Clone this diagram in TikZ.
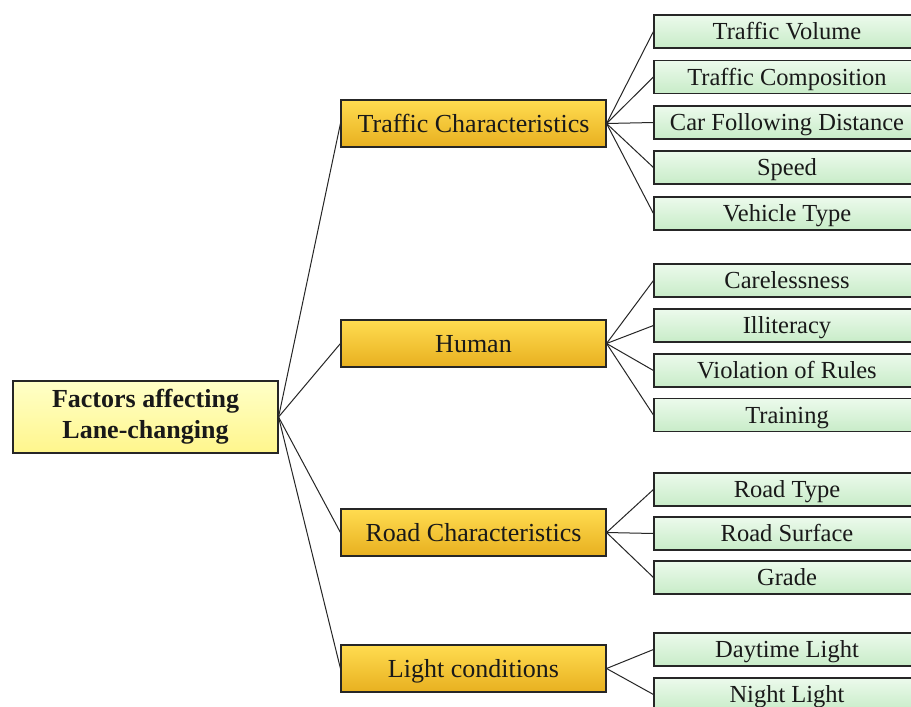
\documentclass[tikz,border=0pt]{standalone}
\usepackage{fontspec}
\setmainfont{Liberation Serif}
\begin{document}
\begin{tikzpicture}[x=1pt,y=-1pt,
  base/.style={draw=black!85, line width=1.1pt, inner sep=0pt, font=\fontsize{26}{30}\selectfont, text=black!90},
  rootbox/.style={base, minimum width=265pt, minimum height=72pt, top color={rgb,255:red,255;green,255;blue,200}, bottom color={rgb,255:red,255;green,246;blue,140}, align=center, font=\fontsize{26}{31}\selectfont\bfseries},
  midbox/.style={base, minimum width=265pt, minimum height=47pt, text height=17pt, text depth=0pt, top color={rgb,255:red,255;green,220;blue,80}, bottom color={rgb,255:red,232;green,176;blue,32}},
  leafbox/.style={base, minimum width=266pt, minimum height=33pt, font=\fontsize{24.5}{28}\selectfont, text height=16pt, text depth=0pt, top color={rgb,255:red,236;green,250;blue,236}, bottom color={rgb,255:red,200;green,236;blue,200}},
  link/.style={draw=black!85, line width=1pt}
]
\useasboundingbox (0,0) rectangle (911,707);
\clip (0,0) rectangle (911,707);
\fill[white] (0,0) rectangle (911,707);

\node[rootbox] (root) at (145.5,417) {Factors affecting\\Lane-changing};

\node[midbox] (tc) at (473.5,123.5) {Traffic Characteristics};
\node[midbox] (hu) at (473.5,343.5) {Human};
\node[midbox] (rc) at (473.5,532.5) {Road Characteristics};
\node[midbox] (lc) at (473.5,668.5) {Light conditions};

\node[leafbox] (l1) at (787,31.5) {Traffic Volume};
\node[leafbox] (l2) at (787,77) {Traffic Composition};
\node[leafbox] (l3) at (787,122.5) {Car Following Distance};
\node[leafbox] (l4) at (787,167.5) {Speed};
\node[leafbox] (l5) at (787,213.5) {Vehicle Type};
\node[leafbox] (l6) at (787,280.5) {Carelessness};
\node[leafbox] (l7) at (787,325.5) {Illiteracy};
\node[leafbox] (l8) at (787,370.5) {Violation of Rules};
\node[leafbox] (l9) at (787,415) {Training};
\node[leafbox] (l10) at (787,489.5) {Road Type};
\node[leafbox] (l11) at (787,533.5) {Road Surface};
\node[leafbox] (l12) at (787,577.5) {Grade};
\node[leafbox] (l13) at (787,649.5) {Daytime Light};
\node[leafbox] (l14) at (787,694.5) {Night Light};

\foreach \m in {tc,hu,rc,lc} \draw[link] (root.east) -- (\m.west);
\foreach \l in {l1,l2,l3,l4,l5} \draw[link] (tc.east) -- (\l.west);
\foreach \l in {l6,l7,l8,l9} \draw[link] (hu.east) -- (\l.west);
\foreach \l in {l10,l11,l12} \draw[link] (rc.east) -- (\l.west);
\foreach \l in {l13,l14} \draw[link] (lc.east) -- (\l.west);
\end{tikzpicture}
\end{document}
